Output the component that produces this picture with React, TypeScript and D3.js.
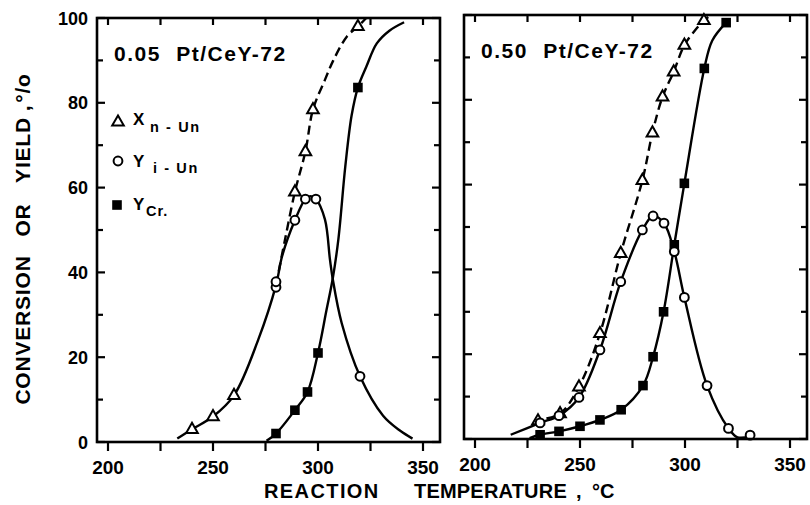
import React from 'react';
import * as d3 from 'd3';

// ---------- axes ----------
const xTickValues = [200, 225, 250, 275, 300, 325, 350];
const xTickLabels = [200, 250, 300, 350];
const yTickValues = [0, 10, 20, 30, 40, 50, 60, 70, 80, 90, 100];
const yTickLabels = [0, 20, 40, 60, 80, 100];

const panelTitles = ['0.05 Pt/CeY-72', '0.50 Pt/CeY-72'];

// ---------- panel A: 0.05 Pt/CeY-72 ----------
// measured points
const aXnT = [240, 250, 260, 289, 294, 297.6, 319];
const aXnV = [3, 6, 11, 59, 68.5, 78.4, 98];
const aYiT = [280, 280, 289, 294, 299, 320];
const aYiV = [36.5, 37.8, 52.3, 57.3, 57.3, 15.5];
const aYcrT = [280, 289, 295, 300, 319];
const aYcrV = [2, 7.5, 11.8, 21, 83.6];
// hand-drawn curves
const aSolidT = [233, 240, 250, 260, 271.6, 280, 283, 289, 294, 296.5, 299, 303.3, 305.7, 307, 311.3, 320, 331, 339, 345];
const aSolidV = [0.8, 3, 6, 11, 24.2, 37, 44, 52.3, 57.3, 58, 57.3, 52.5, 43, 38.5, 28, 15.5, 6.2, 2.7, 0.8];
const aDashT = [280, 284, 289, 294, 297.6, 303.3, 307.3, 313.7, 319, 323];
const aDashV = [37, 47, 59, 68.5, 78.4, 85.4, 90, 95.6, 98, 100];
const aCrT = [275.5, 280, 289, 295, 300, 304, 307, 309.7, 313, 316, 319, 323, 328, 334, 341];
const aCrV = [0.3, 2, 7.5, 11.8, 21, 31, 38.5, 47.8, 65, 77, 83.6, 88.5, 94, 97, 99];

// ---------- panel B: 0.50 Pt/CeY-72 ----------
const bXnT = [230, 240.5, 249.5, 259.5, 269.4, 279.7, 284.5, 289.3, 294.6, 299.7, 309];
const bXnV = [4.3, 6, 12.3, 24.9, 43.8, 61, 72.2, 80.7, 86.6, 92.9, 98.7];
const bYiT = [231, 240, 249.5, 259.5, 269.4, 279.7, 284.8, 290, 294.9, 299.7, 310.5, 320.7, 331];
const bYiV = [3.8, 5.5, 9.8, 21, 37.1, 49.3, 52.6, 50.9, 44.2, 33.4, 12.6, 2.5, 0.9];
const bYcrT = [231, 240, 250, 259.5, 269.6, 280, 284.8, 289.8, 294.9, 299.7, 309.2, 319.6];
const bYcrV = [1, 1.8, 3, 4.5, 6.9, 12.6, 19.4, 30, 45.8, 60.3, 87.4, 98.2];
const bSolidT = [217, 231, 240, 249.5, 259.5, 269.4, 279.7, 284.8, 290, 294.9, 299.7, 310.5, 320.7, 325, 331];
const bSolidV = [1, 3.8, 5.5, 9.8, 21, 37.1, 49.3, 52.6, 50.9, 44.2, 33.4, 12.6, 2.5, 0.4, 0.6];
const bDashT = [228, 230, 240.5, 249.5, 259.5, 269.4, 279.7, 284.5, 289.3, 294.6, 299.7, 305, 309, 312.4];
const bDashV = [3.6, 4.3, 6, 12.3, 24.9, 43.8, 61, 72.2, 80.7, 86.6, 92.9, 96.5, 98.7, 100];
const bCrT = [226, 231, 240, 250, 259.5, 269.6, 280, 284.8, 289.8, 294.9, 299.7, 309.2, 313, 319.6];
const bCrV = [0.2, 1, 1.8, 3, 4.5, 6.9, 12.6, 19.4, 30, 45.8, 60.3, 87.4, 94, 98.2];

const FONT = '"Liberation Sans", Arial, sans-serif';

const x = d3.scaleLinear().domain([200, 350]).range([108, 423]);
const y = d3.scaleLinear().domain([0, 100]).range([442, 18]);
const FRAME_L = 97;
const FRAME_R = 440;

const zip = (t: number[], v: number[]) => t.map((tt, i) => [tt, v[i]] as [number, number]);
const line = d3
  .line<[number, number]>()
  .x((d) => x(d[0]))
  .y((d) => y(d[1]))
  .curve(d3.curveCatmullRom.alpha(0.5));

const triPath = 'M0,-6.5L5.8,3.6L-5.8,3.6Z';

function Tri({ cx, cy }: { cx: number; cy: number }) {
  return <path d={triPath} transform={`translate(${cx},${cy})`} fill="#fff" stroke="#000" strokeWidth={2} />;
}
function Circ({ cx, cy }: { cx: number; cy: number }) {
  return <circle cx={cx} cy={cy} r={4.4} fill="#fff" stroke="#000" strokeWidth={2} />;
}
function Sq({ cx, cy }: { cx: number; cy: number }) {
  return <rect x={cx - 4.8} y={cy - 4.8} width={9.6} height={9.6} fill="#000" />;
}

type PanelProps = {
  dx: number;
  dy: number;
  title: string;
  showYLabels: boolean;
  legend: boolean;
  xnT: number[]; xnV: number[];
  yiT: number[]; yiV: number[];
  ycrT: number[]; ycrV: number[];
  solidT: number[]; solidV: number[];
  dashT: number[]; dashV: number[];
  crT: number[]; crV: number[];
};

function Panel(p: PanelProps) {
  const top = y(100);
  const bot = y(0);
  return (
    <g transform={`translate(${p.dx},${p.dy})`}>
      {/* curves */}
      <path d={line(zip(p.solidT, p.solidV)) || ''} fill="none" stroke="#000" strokeWidth={2.4} />
      <path d={line(zip(p.crT, p.crV)) || ''} fill="none" stroke="#000" strokeWidth={2.4} />
      <path d={line(zip(p.dashT, p.dashV)) || ''} fill="none" stroke="#000" strokeWidth={2.4} strokeDasharray="9 5" />
      {/* markers */}
      {zip(p.ycrT, p.ycrV).map((d, i) => <Sq key={'s' + i} cx={x(d[0])} cy={y(d[1])} />)}
      {zip(p.xnT, p.xnV).map((d, i) => <Tri key={'t' + i} cx={x(d[0])} cy={y(d[1])} />)}
      {zip(p.yiT, p.yiV).map((d, i) => <Circ key={'c' + i} cx={x(d[0])} cy={y(d[1])} />)}
      {/* frame */}
      <rect x={FRAME_L} y={top} width={FRAME_R - FRAME_L} height={bot - top} fill="none" stroke="#000" strokeWidth={2.6} />
      {/* x ticks: bottom outward, top inward */}
      {xTickValues.map((t) => (
        <g key={'xt' + t}>
          <line x1={x(t)} x2={x(t)} y1={bot} y2={bot + 9} stroke="#000" strokeWidth={2.2} />
          <line x1={x(t)} x2={x(t)} y1={top} y2={top + 7} stroke="#000" strokeWidth={2.2} />
        </g>
      ))}
      {/* y ticks: both sides inward */}
      {yTickValues.map((v) => {
        const len = v % 20 === 0 ? 8 : 6;
        return (
          <g key={'yt' + v}>
            <line x1={FRAME_L} x2={FRAME_L + len} y1={y(v)} y2={y(v)} stroke="#000" strokeWidth={2.2} />
            <line x1={FRAME_R} x2={FRAME_R - len} y1={y(v)} y2={y(v)} stroke="#000" strokeWidth={2.2} />
          </g>
        );
      })}
      {/* x tick labels */}
      {xTickLabels.map((t) => (
        <text key={'xl' + t} x={x(t)} y={474} textAnchor="middle" fontFamily={FONT} fontWeight="bold" fontSize={19}>
          {t}
        </text>
      ))}
      {p.showYLabels &&
        yTickLabels.map((v) => (
          <text key={'yl' + v} x={88} y={y(v) + 6.5} textAnchor="end" fontFamily={FONT} fontWeight="bold" fontSize={18}>
            {v}
          </text>
        ))}
      {/* panel title */}
      <text x={114} y={61} fontFamily={FONT} fontWeight="bold" fontSize={21} letterSpacing={1.5} wordSpacing={8}>
        {p.title}
      </text>
      {p.legend && (
        <g fontFamily={FONT} fontWeight="bold">
          <Tri cx={118} cy={122} />
          <text x={133} y={125} fontSize={17}>X</text>
          <text x={150} y={132} fontSize={14.5} letterSpacing={1.6} style={{ whiteSpace: 'pre' }}>n - Un</text>
          <Circ cx={118} cy={161} />
          <text x={133} y={167} fontSize={17}>Y</text>
          <text x={153} y={173} fontSize={14.5} letterSpacing={1.6} style={{ whiteSpace: 'pre' }}>i - Un</text>
          <Sq cx={117} cy={205} />
          <text x={133} y={210} fontSize={17}>Y</text>
          <text x={146} y={216} fontSize={14.5} letterSpacing={1}>Cr.</text>
        </g>
      )}
    </g>
  );
}

export default function App() {
  const yTitleWords: [string, number][] = [
    ['CONVERSION', 330],
    ['OR', 220],
    ['YIELD', 150],
    [',', 108],
    ['°/o', 88],
  ];
  return (
    <svg width={810} height={505} style={{ position: 'absolute', left: 0, top: 0, background: '#fff' }}>
      <rect width={810} height={505} fill="#fff" />
      <Panel
        dx={0} dy={0} title={panelTitles[0]} showYLabels legend
        xnT={aXnT} xnV={aXnV} yiT={aYiT} yiV={aYiV} ycrT={aYcrT} ycrV={aYcrV}
        solidT={aSolidT} solidV={aSolidV} dashT={aDashT} dashV={aDashV} crT={aCrT} crV={aCrV}
      />
      <Panel
        dx={367} dy={-3} title={panelTitles[1]} showYLabels={false} legend={false}
        xnT={bXnT} xnV={bXnV} yiT={bYiT} yiV={bYiV} ycrT={bYcrT} ycrV={bYcrV}
        solidT={bSolidT} solidV={bSolidV} dashT={bDashT} dashV={bDashV} crT={bCrT} crV={bCrV}
      />
      {/* y title */}
      {yTitleWords.map(([w, cy]) => (
        <text
          key={w}
          transform={`translate(30,${cy}) rotate(-90)`}
          textAnchor="middle"
          fontFamily={FONT}
          fontWeight="bold"
          fontSize={21}
          letterSpacing={0.8}
        >
          {w}
        </text>
      ))}
      {/* x title */}
      <g fontFamily={FONT} fontWeight="bold" fontSize={20}>
        <text x={264} y={498} letterSpacing={1.4}>REACTION</text>
        <text x={414} y={498} letterSpacing={0.2}>TEMPERATURE</text>
        <text x={576} y={498}>,</text>
        <text x={592} y={498}>°C</text>
      </g>
    </svg>
  );
}
